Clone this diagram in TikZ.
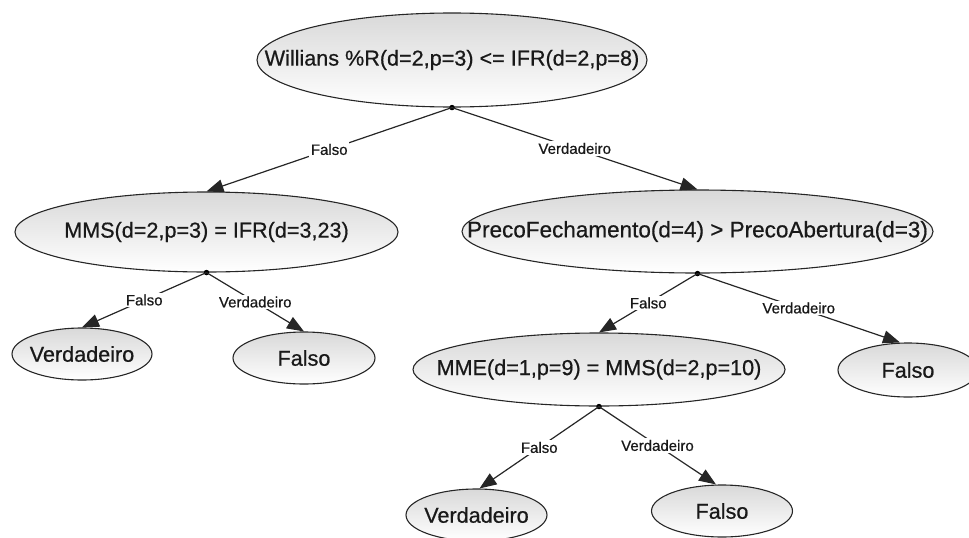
\documentclass[tikz,border=0pt]{standalone}
\usepackage{fontspec}
\setmainfont{Liberation Sans}[FakeBold=0.6,AutoFakeBold=false]
\newfontfamily\heavyfont{Liberation Sans}[FakeBold=0.6]
\usetikzlibrary{shapes.geometric,arrows.meta}
\tikzset{
  ell/.style={ellipse, draw=black!85, line width=1.1pt, top color=black!15, bottom color=white, inner sep=0pt},
  big/.style={font=\heavyfont\fontsize{21.6}{24}\selectfont, text=black!90},
  bigger/.style={font=\heavyfont\fontsize{22.5}{24}\selectfont, text=black!90},
  lbl/.style={font=\heavyfont\fontsize{15}{17}\selectfont, fill=white, inner sep=1.5pt, text=black!90},
  conn/.style={line width=1.2pt, draw=black!85, -{Triangle[length=17pt,width=13pt]}},
  pt/.style={circle, fill=black, inner sep=0pt, minimum size=5.5pt}
}
\begin{document}
\begin{tikzpicture}[x=1pt,y=-1pt]
\useasboundingbox (0,0) rectangle (969,538);
% nodes
\node[ell, minimum width=390pt, minimum height=94pt, label={[big]center:Willians \%R(d=2,p=3) <= IFR(d=2,p=8)}] (root) at (452,60) {};
\node[ell, minimum width=383pt, minimum height=80pt, label={[big]center:MMS(d=2,p=3) = IFR(d=3,23)}] (mms) at (206.5,232) {};
\node[ell, minimum width=471pt, minimum height=83pt, label={[bigger]center:PrecoFechamento(d=4) > PrecoAbertura(d=3)}] (preco) at (697.5,231.5) {};
\node[ell, minimum width=140pt, minimum height=52pt, label={[big]center:Verdadeiro}] (la) at (82,354) {};
\node[ell, minimum width=142pt, minimum height=52pt, label={[big]center:Falso}] (lb) at (304,358) {};
\node[ell, minimum width=372pt, minimum height=73pt, label={[big]center:MME(d=1,p=9) = MMS(d=2,p=10)}] (mme) at (599,369.5) {};
\node[ell, minimum width=140pt, minimum height=54pt, label={[big]center:Falso}] (lc) at (908,370) {};
\node[ell, minimum width=141pt, minimum height=52pt, label={[big]center:Verdadeiro}] (ld) at (476.5,515) {};
\node[ell, minimum width=141pt, minimum height=52pt, label={[big]center:Falso}] (le) at (722,511) {};
% dots
\node[pt] (rootd) at (root.south) {};
\node[pt] (mmsd) at (mms.south) {};
\node[pt] (precod) at (preco.south) {};
\node[pt] (mmed) at (mme.south) {};
% connectors
\draw[conn] (rootd.center) -- node[lbl]{Falso} (mms.north);
\draw[conn] (rootd.center) -- node[lbl]{Verdadeiro} (preco.north);
\draw[conn] (mmsd.center) -- node[lbl]{Falso} (la.north);
\draw[conn] (mmsd.center) -- node[lbl]{Verdadeiro} (lb.north);
\draw[conn] (precod.center) -- node[lbl]{Falso} (mme.north);
\draw[conn] (precod.center) -- node[lbl]{Verdadeiro} ([xshift=-8pt]lc.north);
\draw[conn] (mmed.center) -- node[lbl]{Falso} ([xshift=3pt]ld.north);
\draw[conn] (mmed.center) -- node[lbl]{Verdadeiro} ([xshift=-6pt]le.north);
\end{tikzpicture}
\end{document}
